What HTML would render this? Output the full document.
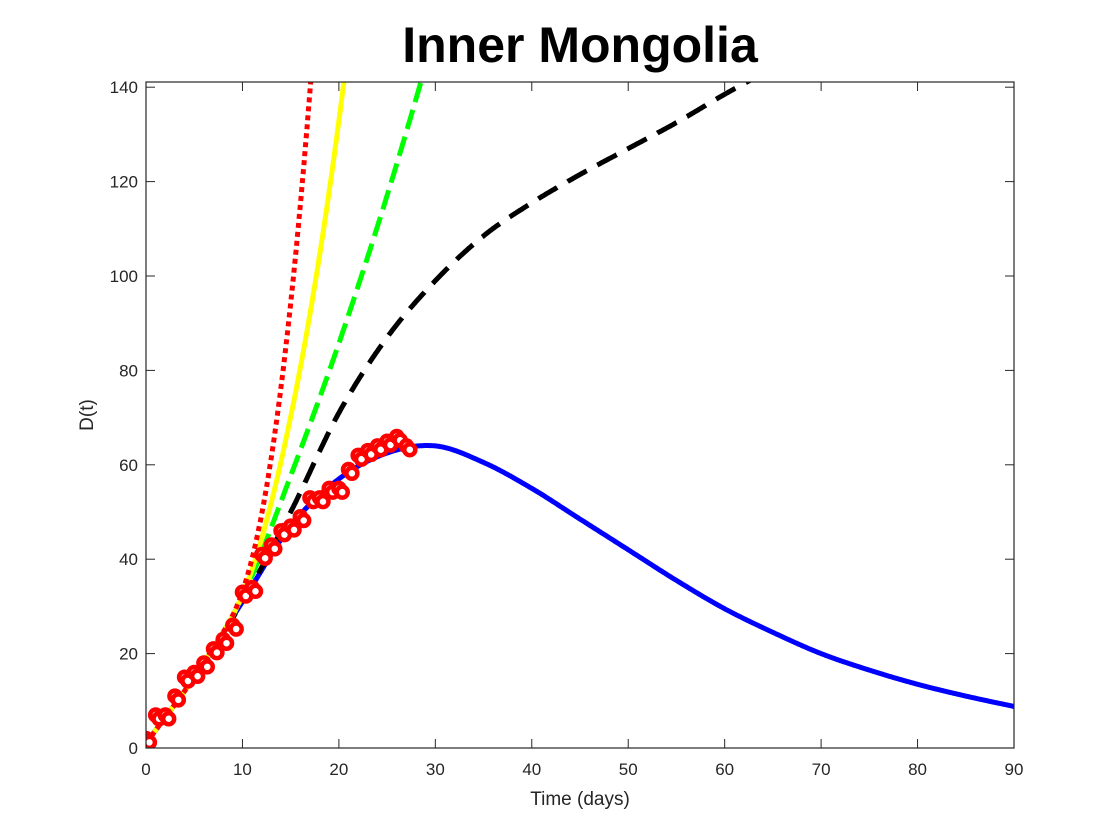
<!DOCTYPE html>
<html><head><meta charset="utf-8"><style>
html,body{margin:0;padding:0;background:#fff;}
svg{display:block;font-family:"Liberation Sans",sans-serif;}
</style></head><body>
<svg id="s" width="1120" height="840" xmlns="http://www.w3.org/2000/svg">
<rect width="1120" height="840" fill="#fff"/>
<text x="580" y="62" font-size="50" font-weight="bold" text-anchor="middle" fill="#000">Inner Mongolia</text>
<defs><clipPath id="c"><rect x="146" y="82" width="868" height="666"/></clipPath></defs>
<g id="plot" clip-path="url(#c)"></g>
<rect x="146" y="82" width="868" height="666" fill="none" stroke="#262626" stroke-width="1.2"/>
<g id="ticks" font-size="17" fill="#262626"></g>
<text x="580" y="805" font-size="19" text-anchor="middle" fill="#262626">Time (days)</text>
<text transform="translate(93,415) rotate(-90)" font-size="19" text-anchor="middle" fill="#262626">D(t)</text>
</svg>
<script>
var NS="http://www.w3.org/2000/svg";
function X(t){return 146+t*868/90;}
function Y(d){return 748-d*4.72;}
function el(p,n,a){var e=document.createElementNS(NS,n);for(var k in a)e.setAttribute(k,a[k]);p.appendChild(e);return e;}
var tk=document.getElementById('ticks');
for(var i=0;i<=90;i+=10){var x=X(i);el(tk,'line',{x1:x,y1:748,x2:x,y2:739,stroke:'#262626'});el(tk,'line',{x1:x,y1:82,x2:x,y2:91,stroke:'#262626'});var t=el(tk,'text',{x:x,y:775,'text-anchor':'middle'});t.textContent=i;}
for(var j=0;j<=140;j+=20){var y=Y(j);el(tk,'line',{x1:146,y1:y,x2:155,y2:y,stroke:'#262626'});el(tk,'line',{x1:1014,y1:y,x2:1005,y2:y,stroke:'#262626'});var t2=el(tk,'text',{x:138,y:y+6,'text-anchor':'end'});t2.textContent=j;}
function interp(k,t){for(var i=0;i<k.length-1;i++){if(t<=k[i+1][0]){var a=k[i],b=k[i+1];var p0=k[Math.max(i-1,0)],p3=k[Math.min(i+2,k.length-1)];var u=(t-a[0])/(b[0]-a[0]);var m1=(b[1]-p0[1])/(b[0]-p0[0])*(b[0]-a[0]);var m2=(p3[1]-a[1])/(p3[0]-a[0])*(b[0]-a[0]);var h00=2*u*u*u-3*u*u+1,h10=u*u*u-2*u*u+u,h01=-2*u*u*u+3*u*u,h11=u*u*u-u*u;return h00*a[1]+h10*m1+h01*b[1]+h11*m2;}}return k[k.length-1][1];}
var pl=document.getElementById('plot');
function draw(fn,t1,style){var d="";for(var t=0;t<=t1+1e-9;t+=0.1){d+=(t==0?"M":"L")+X(t).toFixed(1)+","+Y(fn(t)).toFixed(1);}style.d=d;style.fill='none';el(pl,'path',style);}
var blueK=[[0,1],[5,15],[10,31],[15,47],[20,57],[25,62.5],[30,64],[35,60.5],[40,55],[45,48.5],[50,42],[55,35.5],[60,29.5],[65,24.5],[70,20],[75,16.5],[80,13.5],[85,11],[90,8.8]];
var blackK=[[0,1],[5,15],[10,31],[15,50],[20,71],[25,87],[30,99],[35,108.5],[40,115.5],[45,121.5],[50,127],[55,132.5],[60,138.5],[65,144],[70,149]];
function blue(t){return interp(blueK,t);}
function ext(p,s1,e1){var a=e1/Math.pow(s1,p);return function(t){var s=Math.max(t-8,0);return blue(t)+a*Math.pow(s,p);};}
draw(blue,90,{stroke:'#0000ff','stroke-width':5});
draw(function(t){return interp(blackK,t);},70,{stroke:'#000','stroke-width':5,'stroke-dasharray':'22,12'});
draw(ext(1.84,20.5,77),32,{stroke:'#00ff00','stroke-width':5,'stroke-dasharray':'20,8'});
draw(ext(2.2,12.5,83),24,{stroke:'#ffff00','stroke-width':5});
draw(ext(2.46,9.1,90),20,{stroke:'#ff0000','stroke-width':5,'stroke-dasharray':'5,4'});
var data=[2,7,7,11,15,16,18,21,23,26,33,34,41,43,46,47,49,53,53,55,55,59,62,63,64,65,66,64];
for(var i=0;i<data.length;i++){for(var o=0;o<2;o++){el(pl,'circle',{cx:X(i+o*0.35),cy:Y(data[i]-o*0.8),r:5.5,fill:'#fff',stroke:'#ff0000','stroke-width':4.5});}}
</script>
</body></html>
